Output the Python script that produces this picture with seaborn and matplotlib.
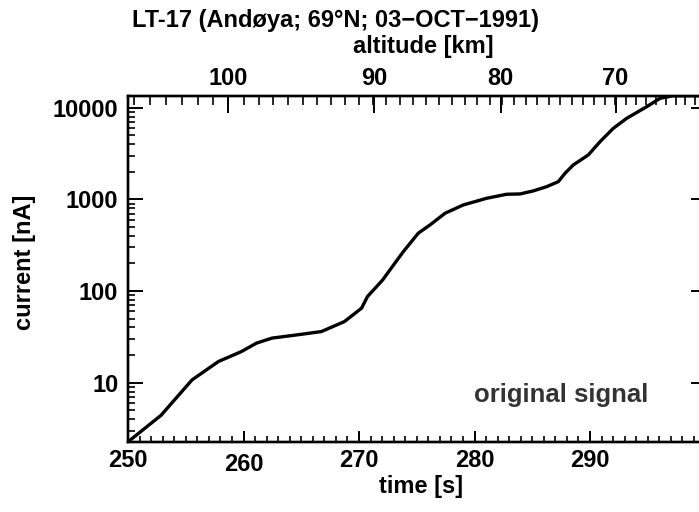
import numpy as np
import pandas as pd
import matplotlib
matplotlib.use("Agg")
import matplotlib.pyplot as plt
import matplotlib.transforms as mtransforms
from matplotlib.ticker import MultipleLocator, LogLocator, NullFormatter
import seaborn as sns

# ---------------- data ----------------
time_s = [250.0, 252.86, 255.54, 257.83, 259.81, 261.13, 262.46, 265.10, 266.75,
          268.74, 270.22, 270.73, 272.05, 272.68, 273.84, 275.13, 276.15, 277.45,
          279.03, 281.06, 282.79, 283.94, 285.09, 286.25, 287.26, 287.84, 288.55,
          289.85, 290.87, 292.02, 293.18, 294.91, 296.07, 297.21, 299.9]
current_nA = [2.26, 4.40, 10.7, 17.0, 21.8, 27.0, 30.6, 33.8, 36.1,
              46.4, 64.9, 86.9, 132, 170, 269, 427, 526, 705,
              869, 1028, 1137, 1145, 1236, 1376, 1560, 1926, 2372,
              3050, 4260, 5960, 7660, 10260, 12670, 13500, 13500]

time_ticks = [250, 260, 270, 280, 290]
time_tick_labels = ["250", "260", "270", "280", "290"]
current_ticks = [10, 100, 1000, 10000]
current_tick_labels = ["10", "100", "1000", "10000"]
alt_ticks = [100, 90, 80, 70]
alt_tick_labels = ["100", "90", "80", "70"]
alt_tick_time = [258.66, 271.30, 282.26, 292.21]   # time at which each altitude is reached

# ---------------- style ----------------
sns.set_theme(style="white")
plt.rcParams["font.family"] = ["Liberation Sans", "DejaVu Sans"]
plt.rcParams["font.weight"] = "bold"
for k in ["text.color", "axes.labelcolor", "xtick.color", "ytick.color", "axes.edgecolor"]:
    plt.rcParams[k] = "black"

W, H = 699, 512
fig = plt.figure(figsize=(W / 100, H / 100), dpi=100)
fig.patch.set_facecolor("white")

def fx(px):
    return px / W

def fy(py):
    return 1 - py / H

left, right, top, bottom = 128, 705.5, 96, 442
ax = fig.add_axes([fx(left), fy(bottom), (right - left) / W, (bottom - top) / H])

df = pd.DataFrame({"time": time_s, "current": current_nA})
sns.lineplot(data=df, x="time", y="current", ax=ax, color="black", lw=2.4,
             estimator=None, sort=False)
ax.set_yscale("log")
ax.set_xlim(250, 300)
ax.set_ylim(2.25, 13420)
ax.set_xlabel("")
ax.set_ylabel("")

for s in ax.spines.values():
    s.set_linewidth(1.7)
    s.set_color("black")

fs = 17
ax.set_xticks(time_ticks)
ax.set_xticklabels(time_tick_labels, fontsize=fs, fontweight="bold")
ax.xaxis.set_minor_locator(MultipleLocator(1))
ax.tick_params(axis="x", which="major", direction="in", length=8, width=1.4,
               bottom=True, top=False, pad=5)
ax.tick_params(axis="x", which="minor", direction="in", length=4, width=1.2,
               bottom=True, top=False)

ax.set_yticks(current_ticks)
ax.set_yticklabels(current_tick_labels, fontsize=fs, fontweight="bold")
ax.yaxis.set_minor_locator(LogLocator(base=10, subs=np.arange(2, 10)))
ax.yaxis.set_minor_formatter(NullFormatter())
ax.tick_params(axis="y", which="major", direction="in", length=11, width=1.4,
               left=True, right=True, pad=7)
ax.tick_params(axis="y", which="minor", direction="in", length=5, width=1.2,
               left=True, right=True)

# the "260" label sits a little lower in the reference
lbl = ax.get_xticklabels()[1]
lbl.set_transform(lbl.get_transform() + mtransforms.ScaledTranslation(0, -4 / 100, fig.dpi_scale_trans))

# ---------------- top altitude axis ----------------
ax2 = ax.twiny()
ax2.set_xlim(ax.get_xlim())
coef = np.polyfit(alt_ticks, alt_tick_time, 2)
minor_alt = np.arange(60, 110)
minor_pos = np.polyval(coef, minor_alt)
minor_pos = minor_pos[(minor_pos > 250) & (minor_pos < 300)]
ax2.set_xticks(alt_tick_time)
ax2.set_xticklabels(alt_tick_labels, fontsize=fs, fontweight="bold")
ax2.set_xticks(minor_pos, minor=True)
ax2.tick_params(axis="x", which="major", direction="in", length=12, width=1.4,
                top=True, bottom=False, labeltop=True, labelbottom=False, pad=4.5)
ax2.tick_params(axis="x", which="minor", direction="in", length=6.5, width=1.2,
                top=True, bottom=False)
for s in ax2.spines.values():
    s.set_linewidth(1.7)
    s.set_color("black")
ax2.grid(False)
ax.grid(False)

# ---------------- texts ----------------
fig.text(fx(336), fy(21), "LT-17 (Andøya; 69°N; 03−OCT−1991)", ha="center", va="center",
         fontsize=fs, fontweight="bold")
fig.text(fx(423), fy(47), "altitude [km]", ha="center", va="center",
         fontsize=fs, fontweight="bold")
fig.text(fx(421), fy(487), "time [s]", ha="center", va="center",
         fontsize=fs, fontweight="bold")
fig.text(fx(24), fy(262), "current [nA]", ha="center", va="center", rotation=90,
         fontsize=fs, fontweight="bold")
fig.text(fx(561), fy(395), "original signal", ha="center", va="center",
         fontsize=18.5, fontweight="bold", color="#333333")

fig.savefig("out.png", dpi=100, facecolor="white")
